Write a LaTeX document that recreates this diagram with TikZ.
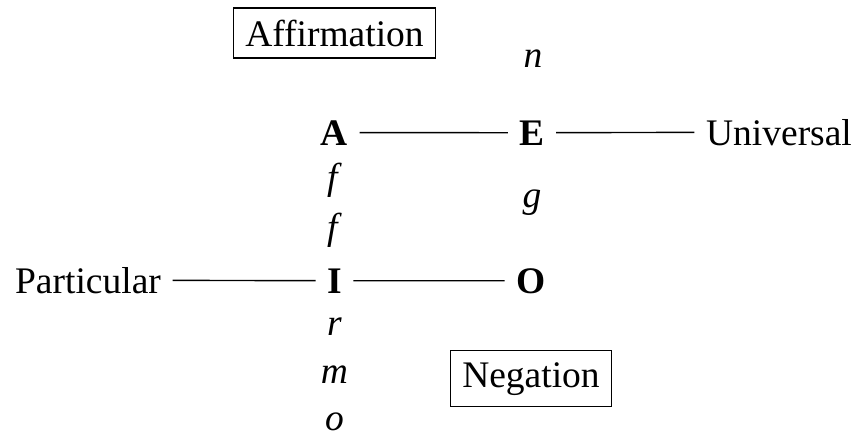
\documentclass[tikz,border=0pt]{standalone}
\usepackage{fontspec}
\setmainfont{Liberation Serif}
\begin{document}
\begin{tikzpicture}[x=1pt,y=-1pt,
  every node/.style={inner sep=11.5pt,font=\fontsize{37.5}{45}\selectfont,anchor=base},
  boxed/.style={draw,line width=1.4pt},
  conn/.style={line width=1.4pt}]
\useasboundingbox (0,0) rectangle (855,437);
% top labels
\node[boxed] (aff) at (334.5,46) {Affirmation};
\node (n) at (533,67) {\textit{n}};
% row A/E
\node (A) at (334.5,145) {\textbf{A}};
\node (E) at (532,145) {\textbf{E}};
\node (U) at (779,145) {Universal};
% middle letters
\node (f1) at (334.5,189) {\textit{f}};
\node (f2) at (334.5,239) {\textit{f}};
\node (g) at (532,207) {\textit{g}};
% row I/O
\node (P) at (88,293) {Particular};
\node (I) at (334.5,293) {\textbf{I}};
\node (O) at (531,293) {\textbf{O}};
% lower letters
\node (r) at (334.5,335) {\textit{r}};
\node (m) at (334.5,383) {\textit{m}};
\node (o) at (334.5,430) {\textit{o}};
\node[boxed] (neg) at (531,387) {Negation};
% connectors
\draw[conn] (A) -- (E);
\draw[conn] (E) -- (U);
\draw[conn] (P) -- (I);
\draw[conn] (I) -- (O);
\end{tikzpicture}
\end{document}
